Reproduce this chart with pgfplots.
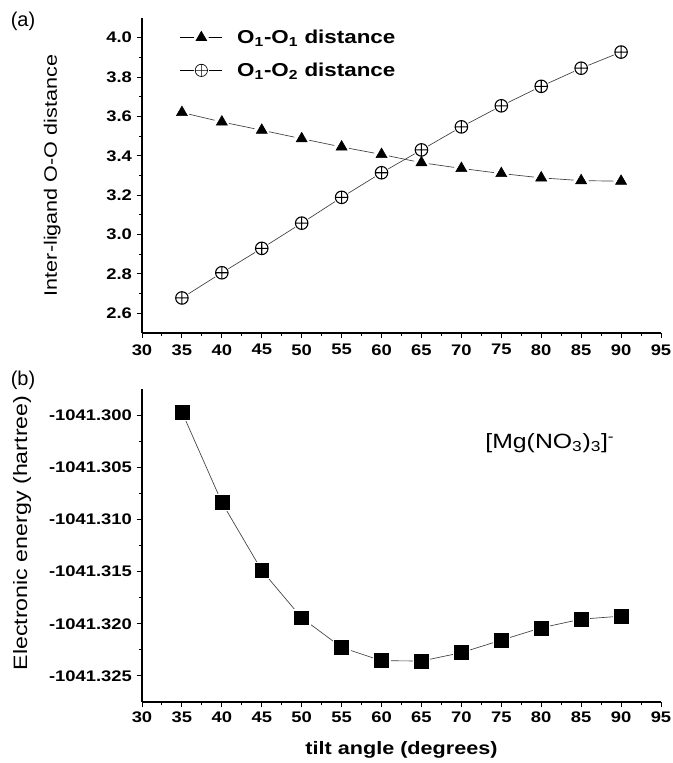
\documentclass[border=0pt]{standalone}
\usepackage{fontspec}
\setmainfont{Liberation Sans}[FakeStretch=1.2]
\newfontfamily\plainfont{Liberation Sans}
\usepackage{pgfplots}
\pgfplotsset{compat=1.18}
\pgfplotsset{
  common/.style={
    scale only axis,
    width=389.25pt,
    axis x line*=bottom,
    axis y line*=left,
    xmin=30, xmax=95,
    xtick={30,35,...,95},
    minor x tick num=1,
    minor y tick num=1,
    tick align=outside,
    major tick length=4pt,
    minor tick length=2.5pt,
    tick style={black, line width=0.7pt},
    axis line style={line width=1.1pt},
    tick label style={font=\bfseries\fontsize{11.5}{14}\selectfont},
    /pgf/number format/assume math mode=true,
    clip=false,
  },
  conn/.style={line width=0.5pt, color=black!75, no markers},
  halo/.style={only marks, mark=*, mark size=#1, draw=white, fill=white},
}
\begin{document}
\begin{tikzpicture}
\path[use as bounding box] (0,0) rectangle (504pt,-572.25pt);
\node[font=\plainfont\fontsize{15}{17}\selectfont] at (17.25pt,-16pt) {(a)};
\node[font=\plainfont\fontsize{15}{17}\selectfont] at (17.25pt,-285pt) {(b)};

% ---------------- top panel ----------------
\begin{axis}[common,
  at={(106.5pt,-249.75pt)}, anchor=south west,
  height=236.25pt,
  ymin=2.5, ymax=4.1,
  ytick={2.6,2.8,3.0,3.2,3.4,3.6,3.8,4.0},
  yticklabels={2.6,2.8,3.0,3.2,3.4,3.6,3.8,4.0},
  xticklabel style={yshift=-1pt},
  ylabel={Inter-ligand O-O distance},
  ylabel style={at={(axis description cs:-0.173,0.5)}, anchor=center, font=\fontsize{13.5}{16}\selectfont},
  legend style={draw=none, fill=none, at={(axis description cs:0.073,0.972)}, anchor=north west,
     font=\bfseries\fontsize{14}{16}\selectfont, row sep=9pt, column sep=9pt, inner sep=0pt},
  legend cell align=left,
  legend image code/.code={%
     \draw[line width=0.5pt, black] (0cm,0cm) -- (1.1cm,0cm);
     \fill[white] (0.55cm,0cm) circle (5.2pt);
     \draw[line width=0.5pt, black, #1, mark size=4.6pt] plot coordinates {(0.55cm,0cm)};},
]
\addplot[conn, forget plot] coordinates {(35,3.620) (40,3.572) (45,3.530) (50,3.487) (55,3.445) (60,3.407) (65,3.365) (70,3.336) (75,3.310) (80,3.288) (85,3.274) (90,3.271)};
\addplot[conn, forget plot] coordinates {(35,2.678) (40,2.806) (45,2.930) (50,3.058) (55,3.189) (60,3.314) (65,3.430) (70,3.547) (75,3.654) (80,3.753) (85,3.845) (90,3.927)};
\addplot[halo=5.4pt, forget plot] coordinates {(35,3.620) (40,3.572) (45,3.530) (50,3.487) (55,3.445) (60,3.407) (65,3.365) (70,3.336) (75,3.310) (80,3.288) (85,3.274) (90,3.271)};
\addplot[halo=5.6pt, forget plot] coordinates {(35,2.678) (40,2.806) (45,2.930) (50,3.058) (55,3.189) (60,3.314) (65,3.430) (70,3.547) (75,3.654) (80,3.753) (85,3.845) (90,3.927)};
\addplot[only marks, mark=triangle*, mark size=4.8pt, black, fill=black] coordinates {(35,3.620) (40,3.572) (45,3.530) (50,3.487) (55,3.445) (60,3.407) (65,3.365) (70,3.336) (75,3.310) (80,3.288) (85,3.274) (90,3.271)};
\addlegendentry{O\textsubscript{1}-O\textsubscript{1} distance}
\addplot[only marks, mark=oplus, mark size=4.7pt, black, line width=0.8pt, fill=white] coordinates {(35,2.678) (40,2.806) (45,2.930) (50,3.058) (55,3.189) (60,3.314) (65,3.430) (70,3.547) (75,3.654) (80,3.753) (85,3.845) (90,3.927)};
\addlegendentry{O\textsubscript{1}-O\textsubscript{2} distance}
\end{axis}

% ---------------- bottom panel ----------------
\begin{axis}[common,
  at={(106.5pt,-526.5pt)}, anchor=south west,
  height=234.75pt,
  ymin=-1041.3275, ymax=-1041.2975,
  ytick={-1041.325,-1041.320,-1041.315,-1041.310,-1041.305,-1041.300},
  yticklabels={-1041.325,-1041.320,-1041.315,-1041.310,-1041.305,-1041.300},
  xlabel={tilt angle (degrees)},
  xlabel style={at={(axis description cs:0.5,-0.153)}, anchor=center, font=\bfseries\fontsize{13.5}{16}\selectfont},
  ylabel={Electronic energy (hartree)},
  ylabel style={at={(axis description cs:-0.231,0.54)}, anchor=center, font=\fontsize{14.5}{16}\selectfont},
]
\addplot[conn] coordinates {(35,-1041.29970) (40,-1041.30837) (45,-1041.31489) (50,-1041.31943) (55,-1041.32227) (60,-1041.32354) (65,-1041.32357) (70,-1041.32277) (75,-1041.32157) (80,-1041.32039) (85,-1041.31956) (90,-1041.31927)};
\addplot[only marks, mark=square*, mark size=6.2pt, white] coordinates {(35,-1041.29970) (40,-1041.30837) (45,-1041.31489) (50,-1041.31943) (55,-1041.32227) (60,-1041.32354) (65,-1041.32357) (70,-1041.32277) (75,-1041.32157) (80,-1041.32039) (85,-1041.31956) (90,-1041.31927)};
\addplot[only marks, mark=square*, mark size=5.2pt, black] coordinates {(35,-1041.29970) (40,-1041.30837) (45,-1041.31489) (50,-1041.31943) (55,-1041.32227) (60,-1041.32354) (65,-1041.32357) (70,-1041.32277) (75,-1041.32157) (80,-1041.32039) (85,-1041.31956) (90,-1041.31927)};
\node[font=\fontsize{15.5}{17}\selectfont] at (axis description cs:0.786,0.827) {[Mg(NO\textsubscript{3})\textsubscript{3}]\textsuperscript{-}};
\end{axis}
\end{tikzpicture}
\end{document}
